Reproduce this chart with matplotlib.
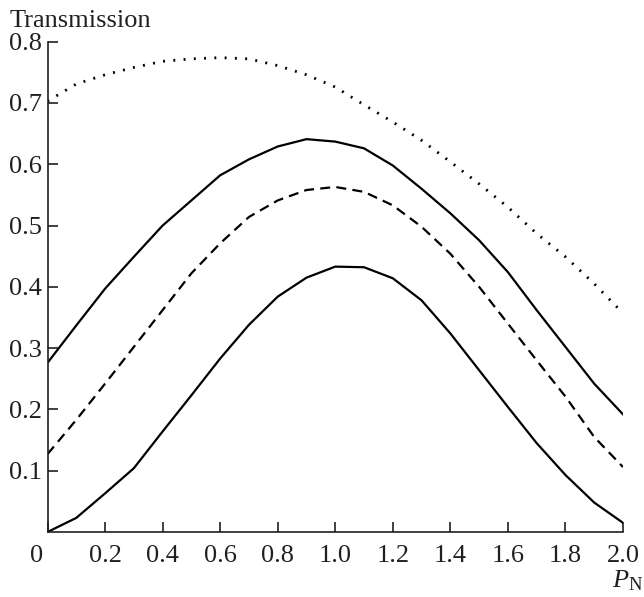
import matplotlib
matplotlib.use("Agg")
import matplotlib.pyplot as plt
import matplotlib.transforms as mtransforms

plt.rcParams['font.family'] = ['Liberation Serif', 'DejaVu Serif']
plt.rcParams['mathtext.fontset'] = 'custom'
plt.rcParams['mathtext.rm'] = 'Liberation Serif'
plt.rcParams['mathtext.it'] = 'Liberation Serif:italic'

# Data
p_n = [0.0, 0.1, 0.2, 0.3, 0.4, 0.5, 0.6, 0.7, 0.8, 0.9, 1.0,
       1.1, 1.2, 1.3, 1.4, 1.5, 1.6, 1.7, 1.8, 1.9, 2.0]
dotted_curve = [0.703, 0.731, 0.746, 0.758, 0.768, 0.772, 0.774, 0.772, 0.761, 0.746, 0.726,
                0.697, 0.669, 0.639, 0.604, 0.568, 0.530, 0.487, 0.449, 0.405, 0.357]
upper_solid = [0.276, 0.337, 0.397, 0.449, 0.500, 0.541, 0.582, 0.608, 0.629, 0.641, 0.637,
               0.626, 0.598, 0.560, 0.520, 0.476, 0.424, 0.362, 0.302, 0.242, 0.192]
dashed_curve = [0.127, 0.183, 0.242, 0.302, 0.362, 0.422, 0.471, 0.514, 0.541, 0.558, 0.563,
                0.555, 0.533, 0.498, 0.454, 0.400, 0.340, 0.280, 0.221, 0.155, 0.106]
lower_solid = [0.000, 0.023, 0.063, 0.104, 0.164, 0.223, 0.283, 0.338, 0.384, 0.415, 0.433,
               0.432, 0.414, 0.378, 0.324, 0.264, 0.204, 0.145, 0.093, 0.048, 0.015]

x_ticks = [0.0, 0.2, 0.4, 0.6, 0.8, 1.0, 1.2, 1.4, 1.6, 1.8, 2.0]
x_tick_labels = ['0', '0.2', '0.4', '0.6', '0.8', '1.0', '1.2', '1.4', '1.6', '1.8', '2.0']
y_ticks = [0.1, 0.2, 0.3, 0.4, 0.5, 0.6, 0.7, 0.8]
y_tick_labels = ['0.1', '0.2', '0.3', '0.4', '0.5', '0.6', '0.7', '0.8']

text_color = '#231f20'
fs = 19

fig = plt.figure(figsize=(6.44, 5.97), dpi=100)
ax = fig.add_axes([47.5 / 644, 65 / 597, (623 - 47.5) / 644, (532 - 41.7) / 597])

ax.plot(p_n, dotted_curve, color='black', lw=2.0, linestyle=(0, (0.7, 3.0)))
ax.plot(p_n, upper_solid, color='black', lw=1.6)
ax.plot(p_n, dashed_curve, color='black', lw=1.6, linestyle=(0, (4.5, 2.8)))
ax.plot(p_n, lower_solid, color='black', lw=1.6)

ax.set_xlim(0, 2.0)
ax.set_ylim(0, 0.8)
ax.set_xticks(x_ticks)
ax.set_xticklabels(x_tick_labels)
ax.set_yticks(y_ticks)
ax.set_yticklabels(y_tick_labels)

for s in ['top', 'right']:
    ax.spines[s].set_visible(False)
for s in ['left', 'bottom']:
    ax.spines[s].set_linewidth(1.2)
    ax.spines[s].set_color(text_color)

ax.tick_params(direction='in', length=7, width=1.2, colors=text_color,
               labelsize=fs, pad=4)
ax.tick_params(axis='x', pad=9.5)

# the "0" label sits left of the origin in the reference
zero_lbl = ax.get_xticklabels()[0]
zero_lbl.set_transform(zero_lbl.get_transform() +
                       mtransforms.ScaledTranslation(-11 / 100, 0, fig.dpi_scale_trans))

fig.text(10 / 644, 1 - 27 / 597, 'Transmission', fontsize=fs, color=text_color,
         ha='left', va='baseline')
fig.text(643 / 644, 1 - 587 / 597, r'$P_{\mathrm{N}}$', fontsize=fs, color=text_color,
         ha='right', va='baseline')

fig.savefig('out.png', dpi=100)
